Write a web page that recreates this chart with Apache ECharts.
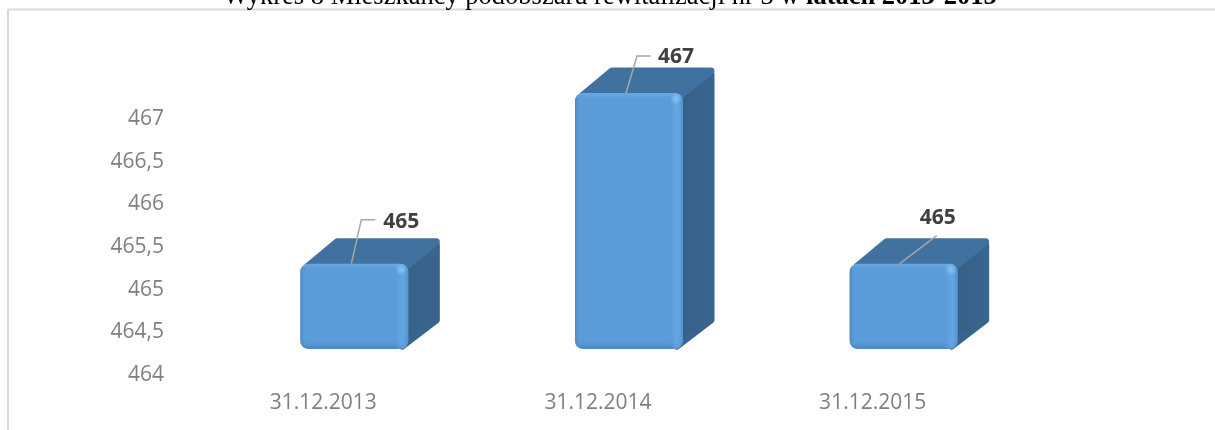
<!DOCTYPE html>
<html>
<head>
<meta charset="utf-8">
<title>Wykres 8</title>
<script src="https://cdn.jsdelivr.net/npm/echarts@6/dist/echarts.min.js"></script>
<style>
  html, body { margin: 0; padding: 0; background: #fff; }
  #myEchart { width: 1215px; height: 430px; }
  /* oryginał to lekko rozmyty zrzut */
  #myEchart canvas { filter: blur(0.5px); }
</style>
</head>
<body>
<div id="myEchart"></div>
<script>
  var titleText = 'Wykres 8 Mieszkańcy podobszaru rewitalizacji nr 3 w ';
  var titleBold = 'latach 2013-2015';
  var categories = ['31.12.2013', '31.12.2014', '31.12.2015'];
  var values = [465, 467, 465];
  var axisMin = 464;
  var axisMax = 467;
  var axisStep = 0.5;

  // wysunięcie etykiet danych względem góry przedniej ściany: [tekst dx, tekst dy, łamanie linii]
  var labelOffsets = [
    { text: [47, -42], line: [[-3, 0], [7, -44], [21, -44]] },
    { text: [47, -36], line: [[-3, 0], [8, -37], [22, -37]] },
    { text: [34, -46], line: [[-4, 0], [33, -28]] }
  ];

  var myEchart = echarts.init(document.getElementById('myEchart'));

  function renderBar(params, api) {
    var base = api.coord([api.value(0), axisMin]);
    var top = api.coord([api.value(0), api.value(1)]);
    var band = api.size([1, 0])[0];
    var w = Math.round(band * 0.393);
    var depthX = 33, depthY = 26, lift = 26, shift = Math.round(band * 0.113);
    var x0 = base[0] + shift - w / 2;
    var x1 = x0 + w;
    var yTop = top[1] - lift;
    var yBot = base[1] - lift;
    var off = labelOffsets[params.dataIndex];
    var cx = x0 + w / 2;

    return {
      type: 'group',
      children: [
        {
          // bok
          type: 'polygon',
          shape: { points: [[x1 - 6, yTop + 4], [x1 + depthX - 5, yTop - depthY + 7], [x1 + depthX - 5, yBot - depthY - 3], [x1 - 6, yBot - 3]] },
          style: {
            fill: new echarts.graphic.LinearGradient(0, 0, 1, 0, [
              { offset: 0, color: '#33597e' },
              { offset: 0.3, color: '#376189' },
              { offset: 1, color: '#39648d' }
            ]),
            stroke: '#39648d',
            lineWidth: 7,
            lineJoin: 'round'
          }
        },
        {
          // góra
          type: 'polygon',
          shape: { points: [[x0 + 7, yTop + 3], [x0 + depthX + 4, yTop - depthY + 4], [x1 + depthX - 5, yTop - depthY + 4], [x1 - 3, yTop + 3]] },
          style: { fill: '#41719f', stroke: '#41719f', lineWidth: 7, lineJoin: 'round' }
        },
        {
          type: 'rect',
          shape: { x: x0, y: yTop, width: w, height: yBot - yTop, r: 8 },
          style: {
            fill: new echarts.graphic.LinearGradient(0, 0, 0, 1, [
              { offset: 0, color: '#67a8e6' },
              { offset: 6 / (yBot - yTop), color: '#5b9bd8' },
              { offset: 1 - 7 / (yBot - yTop), color: '#5b9bd8' },
              { offset: 1, color: '#4c88c0' }
            ])
          }
        },
        {
          // blik na krawędziach
          type: 'rect',
          shape: { x: x0, y: yTop, width: w, height: yBot - yTop, r: 8 },
          style: {
            fill: new echarts.graphic.LinearGradient(0, 0, 1, 0, [
              { offset: 0, color: 'rgba(70,125,180,0.7)' },
              { offset: 0.05, color: 'rgba(91,155,213,0)' },
              { offset: 0.88, color: 'rgba(110,175,235,0)' },
              { offset: 0.95, color: 'rgba(110,175,235,0.55)' },
              { offset: 1, color: 'rgba(80,140,195,0.6)' }
            ])
          }
        },
        {
          // jasny punkt w rogu
          type: 'circle',
          shape: { cx: x1 - 7, cy: yTop + 6, r: 6 },
          style: {
            fill: new echarts.graphic.RadialGradient(0.5, 0.5, 0.5, [
              { offset: 0, color: 'rgba(135,200,250,0.9)' },
              { offset: 1, color: 'rgba(135,200,250,0)' }
            ])
          }
        },
        {
          type: 'polyline',
          shape: { points: off.line.map(function (p) { return [cx + p[0], yTop + p[1]]; }) },
          style: { stroke: '#a6a6a6', lineWidth: 1.5, fill: null }
        },
        {
          type: 'text',
          x: cx + off.text[0],
          y: yTop + off.text[1],
          style: {
            text: String(api.value(1)),
            fill: '#404040',
            font: 'bold 21px "Open Sans"',
            align: 'center',
            verticalAlign: 'middle'
          }
        }
      ]
    };
  }

  var option = {
    animation: false,
    backgroundColor: '#fff',
    title: {
      text: titleText + '{b|' + titleBold + '}',
      left: 605,
      top: -21,
      textAlign: 'center',
      textStyle: {
        fontFamily: 'Liberation Serif',
        fontSize: 26.5,
        fontWeight: 'normal',
        color: '#000',
        rich: {
          b: { fontFamily: 'Liberation Serif', fontSize: 26.5, fontWeight: 'bold', color: '#000' }
        }
      }
    },
    grid: { left: 186, top: 119, width: 824, height: 256 },
    xAxis: {
      type: 'category',
      data: categories,
      axisLine: { show: false },
      axisTick: { show: false },
      axisLabel: { color: '#7f7f7f', fontFamily: 'Open Sans', fontSize: 21, margin: 18 }
    },
    yAxis: {
      type: 'value',
      min: axisMin,
      max: axisMax,
      interval: axisStep,
      axisLine: { show: false },
      axisTick: { show: false },
      splitLine: { show: false },
      axisLabel: {
        color: '#7f7f7f',
        fontFamily: 'Open Sans',
        fontSize: 21,
        margin: 22,
        formatter: function (v) { return String(v).replace('.', ','); }
      }
    },
    series: [
      {
        type: 'custom',
        renderItem: renderBar,
        encode: { x: 0, y: 1 },
        clip: false,
        data: categories.map(function (c, i) { return [i, values[i]]; })
      }
    ],
    graphic: [
      // ramka wykresu
      { type: 'line', shape: { x1: 8, y1: 9.5, x2: 1215, y2: 9.5 }, style: { stroke: '#d9d9d9', lineWidth: 2 } },
      { type: 'line', shape: { x1: 8, y1: 9, x2: 8, y2: 430 }, style: { stroke: '#d9d9d9', lineWidth: 2 } }
    ]
  };

  myEchart.setOption(option);
</script>
</body>
</html>
